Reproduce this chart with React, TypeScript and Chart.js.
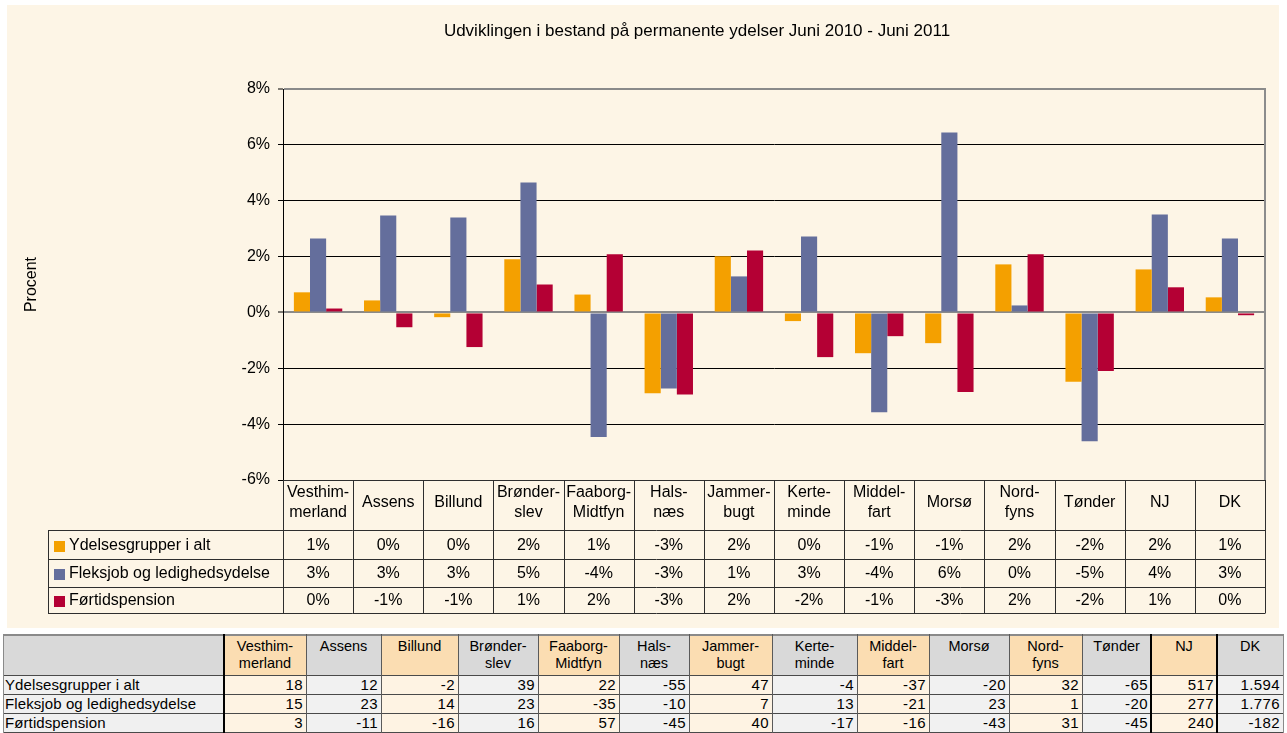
import React, { useEffect, useRef } from 'react';
import { Chart, registerables } from 'chart.js';

Chart.register(...registerables);

const FONT = '"Liberation Sans", Arial, Helvetica, sans-serif';

const chartTitle = 'Udviklingen i bestand på permanente ydelser Juni 2010 - Juni 2011';
const yAxisTitle = 'Procent';

const categories: string[][] = [
  ['Vesthim-', 'merland'],
  ['Assens'],
  ['Billund'],
  ['Brønder-', 'slev'],
  ['Faaborg-', 'Midtfyn'],
  ['Hals-', 'næs'],
  ['Jammer-', 'bugt'],
  ['Kerte-', 'minde'],
  ['Middel-', 'fart'],
  ['Morsø'],
  ['Nord-', 'fyns'],
  ['Tønder'],
  ['NJ'],
  ['DK'],
];

const seriesNames = ['Ydelsesgrupper i alt', 'Fleksjob og ledighedsydelse', 'Førtidspension'];
const seriesColors = ['#F4A000', '#646E9C', '#B40034'];

// bar values in percent
const ydelserPct = [0.72, 0.43, -0.17, 1.9, 0.64, -2.89, 2.01, -0.31, -1.46, -1.1, 1.72, -2.48, 1.54, 0.54];
const fleksjobPct = [2.65, 3.47, 3.4, 4.65, -4.46, -2.72, 1.29, 2.72, -3.57, 6.44, 0.25, -4.61, 3.51, 2.65];
const foertidPct = [0.14, -0.53, -1.24, 1.0, 2.08, -2.94, 2.22, -1.6, -0.85, -2.85, 2.08, -2.1, 0.9, -0.1];

// rounded labels shown in the chart's data table
const ydelserPctLabels = ['1%', '0%', '0%', '2%', '1%', '-3%', '2%', '0%', '-1%', '-1%', '2%', '-2%', '2%', '1%'];
const fleksjobPctLabels = ['3%', '3%', '3%', '5%', '-4%', '-3%', '1%', '3%', '-4%', '6%', '0%', '-5%', '4%', '3%'];
const foertidPctLabels = ['0%', '-1%', '-1%', '1%', '2%', '-3%', '2%', '-2%', '-1%', '-3%', '2%', '-2%', '1%', '0%'];

const yTickValues = [-6, -4, -2, 0, 2, 4, 6, 8];
const yTickLabels = ['-6%', '-4%', '-2%', '0%', '2%', '4%', '6%', '8%'];

// counts in the spreadsheet table below the chart
const ydelserCount = [18, 12, -2, 39, 22, -55, 47, -4, -37, -20, 32, -65, 517, 1594];
const fleksjobCount = [15, 23, 14, 23, -35, -10, 7, 13, -21, 23, 1, -20, 277, 1776];
const foertidCount = [3, -11, -16, 16, 57, -45, 40, -17, -16, -43, 31, -45, 240, -182];

const CREAM = '#FDF5E6';

function fmtCount(n: number): string {
  const s = Math.abs(n).toString().replace(/\B(?=(\d{3})+(?!\d))/g, '.');
  return (n < 0 ? '-' : '') + s;
}

function ChartCanvas() {
  const ref = useRef<HTMLCanvasElement>(null);

  useEffect(() => {
    const canvas = ref.current;
    if (!canvas) return;
    const pctRows = [ydelserPctLabels, fleksjobPctLabels, foertidPctLabels];

    const tablePlugin = {
      id: 'excelDataTable',
      afterDraw(chart: any) {
        const { ctx, chartArea: a } = chart;
        const n = categories.length;
        const colW = (a.right - a.left) / n;
        const hTop = a.bottom;
        const rows = [hTop + 50, hTop + 79, hTop + 106.5, hTop + 133];
        const labelLeft = 41;
        const px = (v: number) => Math.round(v) + 0.5;

        ctx.save();
        // chart title
        ctx.fillStyle = '#000';
        ctx.font = `17px ${FONT}`;
        ctx.textAlign = 'center';
        ctx.textBaseline = 'middle';
        ctx.fillText(chartTitle, 690, 26);

        // plot area right border
        ctx.strokeStyle = '#8c8c8c';
        ctx.lineWidth = 2;
        ctx.beginPath();
        ctx.moveTo(a.right, a.top - 1);
        ctx.lineTo(a.right, a.bottom);
        ctx.stroke();

        // table grid
        ctx.strokeStyle = '#2e2e2e';
        ctx.lineWidth = 1;
        ctx.beginPath();
        ctx.moveTo(a.left, px(hTop));
        ctx.lineTo(a.right, px(hTop));
        rows.forEach((y) => {
          ctx.moveTo(labelLeft, px(y));
          ctx.lineTo(a.right, px(y));
        });
        for (let i = 0; i <= n; i++) {
          const x = px(a.left + i * colW);
          ctx.moveTo(x, hTop);
          ctx.lineTo(x, px(rows[3]));
        }
        ctx.moveTo(px(labelLeft), px(rows[0]));
        ctx.lineTo(px(labelLeft), px(rows[3]));
        ctx.stroke();

        // table text
        ctx.font = `16px ${FONT}`;
        ctx.fillStyle = '#000';
        ctx.textAlign = 'center';
        categories.forEach((lines, i) => {
          const cx = a.left + (i + 0.5) * colW;
          const cy = hTop + 23;
          if (lines.length === 1) {
            ctx.fillText(lines[0], cx, cy);
          } else {
            ctx.fillText(lines[0], cx, cy - 10);
            ctx.fillText(lines[1], cx, cy + 10);
          }
          pctRows.forEach((row, r) => {
            ctx.fillText(row[i], cx, (rows[r] + rows[r + 1]) / 2 + 1);
          });
        });
        ctx.textAlign = 'left';
        seriesNames.forEach((name, r) => {
          const cy = (rows[r] + rows[r + 1]) / 2;
          ctx.fillStyle = seriesColors[r];
          ctx.fillRect(47, Math.round(cy - 4), 11, 11);
          ctx.fillStyle = '#000';
          ctx.fillText(name, 62, cy + 1);
        });
        ctx.restore();
      },
    };

    const chart = new Chart(canvas, {
      type: 'bar',
      data: {
        labels: categories.map((l) => l.join(' ').replace('- ', '')),
        datasets: [ydelserPct, fleksjobPct, foertidPct].map((d, i) => ({
          label: seriesNames[i],
          data: d,
          backgroundColor: seriesColors[i],
          borderWidth: 0,
          categoryPercentage: 0.69,
          barPercentage: 1,
        })),
      },
      options: {
        responsive: false,
        animation: false,
        events: [],
        layout: { padding: { left: 0, right: 14, top: 84, bottom: 148 } },
        plugins: {
          legend: { display: false },
          title: { display: false },
          tooltip: { enabled: false },
        },
        scales: {
          x: { display: false },
          y: {
            min: -6,
            max: 8,
            afterBuildTicks: (s: any) => {
              s.ticks = yTickValues.map((v) => ({ value: v }));
            },
            afterFit: (s: any) => {
              s.width = 276;
            },
            ticks: {
              callback: (v: any) => {
                const idx = yTickValues.indexOf(Number(v));
                return idx >= 0 ? yTickLabels[idx] : '';
              },
              font: { family: FONT, size: 16 },
              color: '#000',
              padding: 8,
            },
            grid: {
              color: (c: any) => {
                const v = c.tick ? c.tick.value : null;
                return v === 0 || v === 8 ? '#8a8a8a' : '#000';
              },
              lineWidth: (c: any) => {
                const v = c.tick ? c.tick.value : null;
                return v === 0 || v === 8 ? 2 : 1;
              },
              tickColor: '#000',
              tickLength: 5,
              tickWidth: 1,
              drawTicks: true,
            },
            border: { display: true, color: '#000', width: 1 },
            title: {
              display: true,
              text: yAxisTitle,
              font: { family: FONT, size: 16 },
              color: '#000',
              padding: { top: 15, bottom: 0 },
            },
          },
        },
      } as any,
      plugins: [tablePlugin],
    });
    return () => chart.destroy();
  }, []);

  return (
    <div style={{ position: 'absolute', left: 7, top: 5, width: 1272, height: 623, background: CREAM }}>
      <canvas ref={ref} width={1272} height={623} style={{ display: 'block', width: 1272, height: 623 }} />
    </div>
  );
}

function BottomTable() {
  const top = 635;
  const headH = 40;
  const rowH = 19;
  const edges = [3, 224, 306, 381, 458, 538, 619, 689, 772, 857, 929, 1009, 1082, 1151, 1217, 1283];
  const countRows = [ydelserCount, fleksjobCount, foertidCount];
  const els: React.ReactNode[] = [];
  const isOrange = (c: number) => c >= 1 && (c - 1) % 2 === 0;

  for (let c = 0; c < edges.length - 1; c++) {
    const left = edges[c];
    const width = edges[c + 1] - edges[c];
    const headBg = c === 0 ? '#D9D9D9' : isOrange(c) ? '#FBDDB2' : '#D9D9D9';
    const dataBg = c === 0 ? '#F0F0F0' : isOrange(c) ? '#FEF3E3' : '#F1F1F1';
    const lines = c === 0 ? [] : categories[c - 1];
    els.push(
      <div
        key={`h${c}`}
        style={{
          position: 'absolute', left, top, width, height: headH, background: headBg,
          textAlign: 'center', paddingTop: 3, boxSizing: 'border-box', lineHeight: '17px', fontSize: 14.5,
        }}
      >
        {lines.map((l, i) => (
          <div key={i}>{l}</div>
        ))}
      </div>
    );
    for (let r = 0; r < 3; r++) {
      const t = top + headH + r * rowH;
      const text = c === 0 ? seriesNames[r] : fmtCount(countRows[r][c - 1]);
      els.push(
        <div
          key={`d${c}-${r}`}
          style={{
            position: 'absolute', left, top: t, width, height: rowH, background: dataBg,
            textAlign: c === 0 ? 'left' : 'right', boxSizing: 'border-box',
            paddingLeft: c === 0 ? 2 : 0, paddingRight: c === 0 ? 0 : 3,
            lineHeight: `${rowH}px`, fontSize: 15, letterSpacing: c === 0 ? '0.1px' : '0.4px',
            whiteSpace: 'nowrap', overflow: 'hidden',
          }}
        >
          {text}
        </div>
      );
    }
  }
  // horizontal lines
  const hLines = [top + headH, top + headH + rowH, top + headH + 2 * rowH, top + headH + 3 * rowH];
  hLines.forEach((y, i) => {
    els.push(
      <div key={`hl${i}`} style={{ position: 'absolute', left: edges[0], top: y, width: edges[edges.length - 1] - edges[0], height: 1, background: '#4a4a4a' }} />
    );
  });
  els.push(
    <div key="topline" style={{ position: 'absolute', left: edges[0], top: top - 1, width: edges[edges.length - 1] - edges[0], height: 2, background: '#8a8a8a' }} />
  );
  // vertical lines
  edges.forEach((x, i) => {
    const thick = i === 1 || i === 13 || i === 14;
    const outer = i === 0 || i === edges.length - 1;
    els.push(
      <div
        key={`vl${i}`}
        style={{
          position: 'absolute', left: thick ? x - 1 : x, top: top - 1, width: thick ? 2 : 1,
          height: headH + 3 * rowH + 2, background: thick ? '#000' : outer ? '#8a8a8a' : '#5a5a5a',
        }}
      />
    );
  });
  return <>{els}</>;
}

export default function App() {
  return (
    <div
      style={{
        position: 'absolute', left: 0, top: 0, width: 1287, height: 733, overflow: 'hidden',
        background: '#fff', fontFamily: FONT, color: '#000',
      }}
    >
      <ChartCanvas />
      <BottomTable />
    </div>
  );
}
